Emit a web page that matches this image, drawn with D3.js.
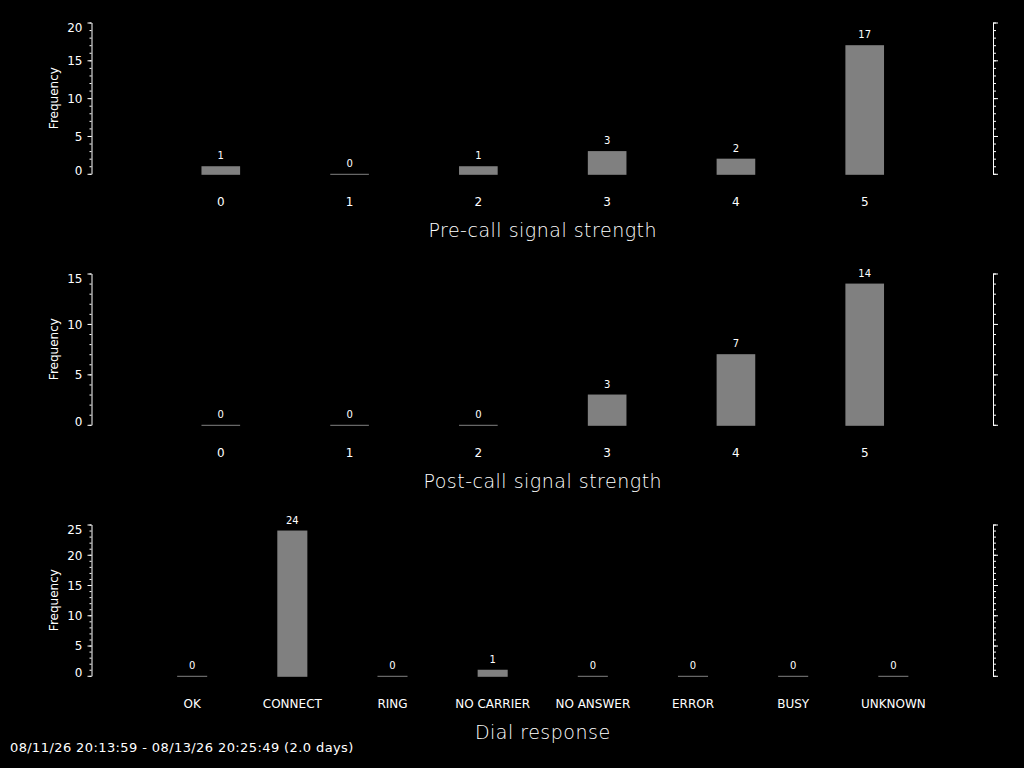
<!DOCTYPE html>
<html>
<head>
<meta charset="utf-8">
<script src="https://cdn.jsdelivr.net/npm/d3@7"></script>
<style>
  body { margin: 0; background: #000; }
  svg text { font-family: "DejaVu Sans", sans-serif; fill: #fff; }
</style>
</head>
<body>
<div class="chartArea"></div>
<script>
// chart values
const preCats = ["0", "1", "2", "3", "4", "5"];
const preCounts = [1, 0, 1, 3, 2, 17];
const postCats = ["0", "1", "2", "3", "4", "5"];
const postCounts = [0, 0, 0, 3, 7, 14];
const dialCats = ["OK", "CONNECT", "RING", "NO CARRIER", "NO ANSWER", "ERROR", "BUSY", "UNKNOWN"];
const dialCounts = [0, 24, 0, 1, 0, 0, 0, 0];
const yMaxes = [20, 15, 25];
const titles = ["Pre-call signal strength", "Post-call signal strength", "Dial response"];
const footer = "08/11/26 20:13:59 - 08/13/26 20:25:49 (2.0 days)";

const svgWidth = 1024;
const svgHeight = 768;
const left = 91.5;    // axis g offset, d3 adds 0.5
const right = 993;
const plotTop = 22.5;
const plotH = 151.3;
const panelStep = 251;

const svg = d3.select(".chartArea")
  .append("svg")
  .attr("width", svgWidth)
  .attr("height", svgHeight)
  .style("background", "#000");

function drawPanel(cats, counts, yMax, title, idx) {
  const top = plotTop + panelStep * idx;
  const bottom = top + plotH;

  const xScale = d3.scaleLinear()
    .domain([-1, cats.length])
    .range([left + 0.5, right + 0.5]);
  const step = xScale(1) - xScale(0);
  const barW = step * 0.3;

  const yScale = d3.scaleLinear()
    .domain([0, yMax])
    .range([bottom, top]);

  const g = svg.append("g").attr("class", "panel");

  // left axis, major ticks with labels
  const yAxis = d3.axisLeft(yScale)
    .tickValues(d3.range(0, yMax + 1, 5))
    .tickSize(4)
    .tickSizeOuter(0)
    .tickPadding(5);
  const ax = g.append("g")
    .attr("transform", `translate(${left},0)`)
    .call(yAxis);
  ax.selectAll("path, line").attr("stroke", "#fff");
  ax.selectAll("text")
    .attr("font-size", "12px")
    .attr("fill", "#fff")
    .attr("font-family", "DejaVu Sans")
    .attr("dy", d => d === yMax ? 8.8 : (d === 0 ? 0.3 : 4.4));

  // left minor ticks
  g.append("g")
    .attr("transform", `translate(${left},0)`)
    .call(d3.axisLeft(yScale).tickValues(d3.range(0, yMax + 1, 1)).tickSize(2).tickFormat(""))
    .call(s => s.select(".domain").remove())
    .selectAll("line").attr("stroke", "#fff");

  // right axis, no labels
  const rax = g.append("g")
    .attr("transform", `translate(${right},0)`)
    .call(d3.axisRight(yScale).tickValues(d3.range(0, yMax + 1, 5)).tickSize(5).tickSizeOuter(0).tickFormat(""));
  rax.selectAll("path, line").attr("stroke", "#fff");
  g.append("g")
    .attr("transform", `translate(${right},0)`)
    .call(d3.axisRight(yScale).tickValues(d3.range(0, yMax + 1, 1)).tickSize(3).tickFormat(""))
    .call(s => s.select(".domain").remove())
    .selectAll("line").attr("stroke", "#fff");

  // bars
  g.selectAll("rect.bar")
    .data(counts)
    .enter().append("rect")
    .attr("class", "bar")
    .attr("x", (d, i) => xScale(i) - barW / 2)
    .attr("y", d => yScale(d))
    .attr("width", barW)
    .attr("height", d => yScale(0) - yScale(d) + 1)
    .attr("fill", "#808080");

  // value labels
  g.selectAll("text.val")
    .data(counts)
    .enter().append("text")
    .attr("class", "val")
    .attr("x", (d, i) => xScale(i))
    .attr("y", d => yScale(d) - 7)
    .attr("text-anchor", "middle")
    .attr("font-size", "10px")
    .text(d => d);

  // category labels
  g.selectAll("text.cat")
    .data(cats)
    .enter().append("text")
    .attr("class", "cat")
    .attr("x", (d, i) => xScale(i))
    .attr("y", bottom + 32.5)
    .attr("text-anchor", "middle")
    .attr("font-size", "12px")
    .text(d => d);

  // x title
  g.append("text")
    .attr("x", (left + right) / 2 + 0.5)
    .attr("y", bottom + 63.5)
    .attr("text-anchor", "middle")
    .attr("font-size", "19px")
    .attr("font-weight", 200)
    .attr("letter-spacing", "0.5px")
    .text(title);

  // y title
  g.append("text")
    .attr("transform", `translate(57.5,${(top + bottom) / 2}) rotate(-90)`)
    .attr("text-anchor", "middle")
    .attr("font-size", "12px")
    .text("Frequency");
}

drawPanel(preCats, preCounts, yMaxes[0], titles[0], 0);
drawPanel(postCats, postCounts, yMaxes[1], titles[1], 1);
drawPanel(dialCats, dialCounts, yMaxes[2], titles[2], 2);

svg.append("text")
  .attr("x", 10)
  .attr("y", 752)
  .attr("font-size", "13px")
  .attr("letter-spacing", "0.4px")
  .text(footer);
</script>
</body>
</html>
